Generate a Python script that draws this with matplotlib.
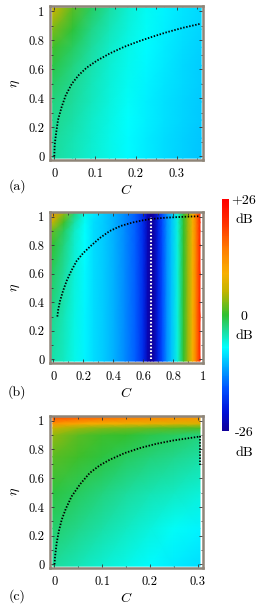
import numpy as np
import matplotlib
matplotlib.use('Agg')
import matplotlib.pyplot as plt
from matplotlib.colors import LinearSegmentedColormap, Normalize
from matplotlib.ticker import MultipleLocator, FuncFormatter
import matplotlib.cm as cm

plt.rcParams['font.family'] = 'cmr10'
plt.rcParams['mathtext.fontset'] = 'cm'
plt.rcParams['axes.formatter.use_mathtext'] = True

# ---- panel (a) ----
a_C = [0, 0.045, 0.09, 0.135, 0.18, 0.225, 0.27, 0.315, 0.36]
a_eta = [0, 0.125, 0.25, 0.375, 0.5, 0.625, 0.75, 0.875, 1.0]
a_db = [
    [-3.5, -4.5, -5.5, -6.5, -7.5, -8.3, -9.0, -9.6, -10.2],
    [-3.3, -4.3, -5.3, -6.4, -7.4, -8.2, -9.0, -9.6, -10.2],
    [-3.0, -4.0, -5.1, -6.2, -7.3, -8.1, -8.9, -9.5, -10.1],
    [-2.5, -3.6, -4.8, -6.0, -7.1, -8.0, -8.8, -9.4, -10.0],
    [-1.8, -3.1, -4.5, -5.8, -6.9, -7.8, -8.7, -9.3, -9.9],
    [-0.8, -2.5, -4.1, -5.5, -6.7, -7.6, -8.5, -9.2, -9.8],
    [0.5, -1.6, -3.5, -5.1, -6.4, -7.4, -8.3, -9.0, -9.6],
    [2.8, -0.4, -2.8, -4.6, -6.0, -7.1, -8.0, -8.8, -9.4],
    [6.5, 1.5, -1.5, -3.8, -5.5, -6.8, -7.8, -8.6, -9.2],
]
a_curve_C = [0, 0.001, 0.004, 0.009, 0.018, 0.028, 0.043, 0.06, 0.079, 0.105,
             0.137, 0.172, 0.21, 0.242, 0.275, 0.315, 0.357]
a_curve_eta = [0, 0.08, 0.15, 0.25, 0.34, 0.42, 0.50, 0.56, 0.61, 0.66,
               0.71, 0.755, 0.795, 0.825, 0.854, 0.885, 0.912]

# ---- panel (b) ----
b_C = [0, 0.07, 0.14, 0.21, 0.27, 0.34, 0.41, 0.48, 0.55, 0.6, 0.63, 0.65,
       0.67, 0.7, 0.73, 0.76, 0.79, 0.83, 0.87, 0.9, 0.93, 0.955, 0.98]
b_eta = [0, 0.3, 0.6, 0.8, 0.9, 0.96, 1.0]
b_tail = [-10, -11.5, -13.5, -16, -19.5, -24, -26, -25, -20.5, -16.5, -13, -10.5,
          -6, 0, 4, 9, 15, 22]
b_db = [
    [-4.0, -5.0, -6.5, -7.8, -9] + b_tail,
    [-3.0, -4.5, -6.2, -7.8, -9] + b_tail,
    [-1.5, -3.5, -5.8, -7.6, -9] + b_tail,
    [0.0, -2.5, -5.3, -7.3, -9] + b_tail,
    [2.0, -1.5, -5.0, -7.2, -9] + b_tail,
    [6.0, 0.5, -4.0, -7.0, -9] + b_tail,
    [12.0, 3.5, -2.5, -6.5, -8.5] + b_tail,
]
b_curve_C = [0.027, 0.033, 0.045, 0.065, 0.089, 0.12, 0.156, 0.2, 0.245, 0.31,
             0.378, 0.45, 0.533, 0.6, 0.656, 0.75, 0.889, 0.98]
b_curve_eta = [0.30, 0.35, 0.41, 0.48, 0.55, 0.62, 0.69, 0.745, 0.79, 0.85,
               0.90, 0.935, 0.96, 0.975, 0.984, 0.993, 1.0, 1.003]
b_line_C = 0.651

# ---- panel (c) ----
c_C = [0, 0.05, 0.1, 0.15, 0.2, 0.25, 0.305]
c_eta = [0, 0.25, 0.5, 0.75, 0.9, 0.95, 0.98, 1.0]
c_db = [
    [-3.5, -4.5, -5.5, -6.5, -7.5, -8.3, -9.0],
    [-2.0, -3.0, -4.0, -5.0, -6.0, -7.0, -7.8],
    [-0.5, -1.5, -2.5, -3.5, -4.3, -5.0, -5.8],
    [1.5, 0.5, -0.5, -1.5, -2.3, -3.0, -3.8],
    [3.5, 1.5, 0.5, 0.0, -1.0, -1.5, -2.5],
    [6.0, 4.0, 3.0, 2.5, 2.0, 1.5, 1.0],
    [12.0, 10.0, 9.0, 8.5, 8.0, 7.5, 7.0],
    [18.0, 17.0, 16.0, 15.0, 14.0, 13.0, 12.0],
]
c_curve_C = [0, 0.001, 0.0046, 0.009, 0.015, 0.024, 0.036, 0.054, 0.074, 0.095,
             0.116, 0.147, 0.179, 0.214, 0.249, 0.28, 0.306]
c_curve_eta = [0, 0.05, 0.15, 0.23, 0.31, 0.39, 0.474, 0.56, 0.637, 0.69,
               0.729, 0.775, 0.81, 0.84, 0.863, 0.878, 0.891]
c_vert_eta = [0.891, 0.694]

# colour scale (dB)
cb_nodes = [0.0, 0.08, 0.18, 0.28, 0.36, 0.44, 0.5, 0.6, 0.68, 0.78, 0.9, 1.0]
cb_colors = ['#10009a', '#0010d8', '#0050ff', '#00b0ff', '#00ffff', '#20d890',
             '#30c030', '#c0b400', '#f8b000', '#ff8000', '#ff3000', '#ff0000']
cmap = LinearSegmentedColormap.from_list('db', list(zip(cb_nodes, cb_colors)))
norm = Normalize(-26, 26)

fig = plt.figure(figsize=(2.67, 6.15), dpi=100)

frame_col = '#8f8578'
fmt = FuncFormatter(lambda v, p: '%g' % round(v, 3))


def panel(rect, C, eta, db, xlim, xmaj, xmin):
    ax = fig.add_axes(rect)
    X = np.array(C, float)
    Y = np.array(eta, float)
    X[0] -= 0.004 * (xlim[1] - xlim[0]) / 0.37
    Y[0] -= 0.012
    Y[-1] += 0.022
    ax.pcolormesh(X, Y, np.array(db), cmap=cmap, norm=norm, shading='gouraud',
                  rasterized=True)
    ax.set_xlim(*xlim)
    ax.set_ylim(-0.025, 1.035)
    ax.xaxis.set_major_locator(MultipleLocator(xmaj))
    ax.xaxis.set_minor_locator(MultipleLocator(xmin))
    ax.yaxis.set_major_locator(MultipleLocator(0.2))
    ax.yaxis.set_minor_locator(MultipleLocator(0.1))
    ax.xaxis.set_major_formatter(fmt)
    ax.yaxis.set_major_formatter(fmt)
    ax.tick_params(which='both', direction='in', top=True, right=True,
                   color='#333333', width=0.6, labelsize=9)
    ax.tick_params(which='major', length=3)
    ax.tick_params(which='minor', length=1.8)
    ax.tick_params(axis='x', pad=6)
    ax.tick_params(axis='y', pad=4)
    for s in ax.spines.values():
        s.set_color(frame_col)
        s.set_linewidth(1.8)
    ax.set_xlabel(r'$C$', fontsize=10, labelpad=2)
    ax.set_ylabel(r'$\eta$', fontsize=10, labelpad=5)
    return ax


dots = dict(color='black', linestyle=(0, (0.8, 0.9)), linewidth=1.3)

ax_a = panel([0.1873, 0.7398, 0.5730, 0.2504], a_C, a_eta, a_db,
             (-0.0105, 0.3645), 0.1, 0.05)
ax_a.plot(a_curve_C, a_curve_eta, **dots)

ax_b = panel([0.1873, 0.4098, 0.5730, 0.2460], b_C, b_eta, b_db,
             (-0.022, 1.0), 0.2, 0.1)
ax_b.plot(b_curve_C, b_curve_eta, **dots)
ax_b.plot([b_line_C, b_line_C], [0, 1.0], color='white',
          linestyle=(0, (0.8, 0.9)), linewidth=1.5)

ax_c = panel([0.1873, 0.0764, 0.5730, 0.2476], c_C, c_eta, c_db,
             (-0.0094, 0.3113), 0.1, 0.05)
ax_c.plot(c_curve_C, c_curve_eta, **dots)
ax_c.plot([c_curve_C[-1], c_curve_C[-1]], c_vert_eta, **dots)

# panel letters
for y, s in [(0.698, '(a)'), (0.362, '(b)'), (0.031, '(c)')]:
    fig.text(0.064, y, s, ha='center', va='center', fontsize=10)

# colour bar
cax = fig.add_axes([0.830, 0.2997, 0.0275, 0.376])
cb = fig.colorbar(cm.ScalarMappable(norm=norm, cmap=cmap), cax=cax, ticks=[])
cb.outline.set_visible(False)

for yy, s in [(200, '+26'), (220, 'dB'), (317, '0'), (336, 'dB'),
              (433, '-26'), (453, 'dB')]:
    fig.text(244 / 267, 1 - yy / 615, s, ha='center', va='center', fontsize=10)

fig.savefig('out.png', dpi=100)
